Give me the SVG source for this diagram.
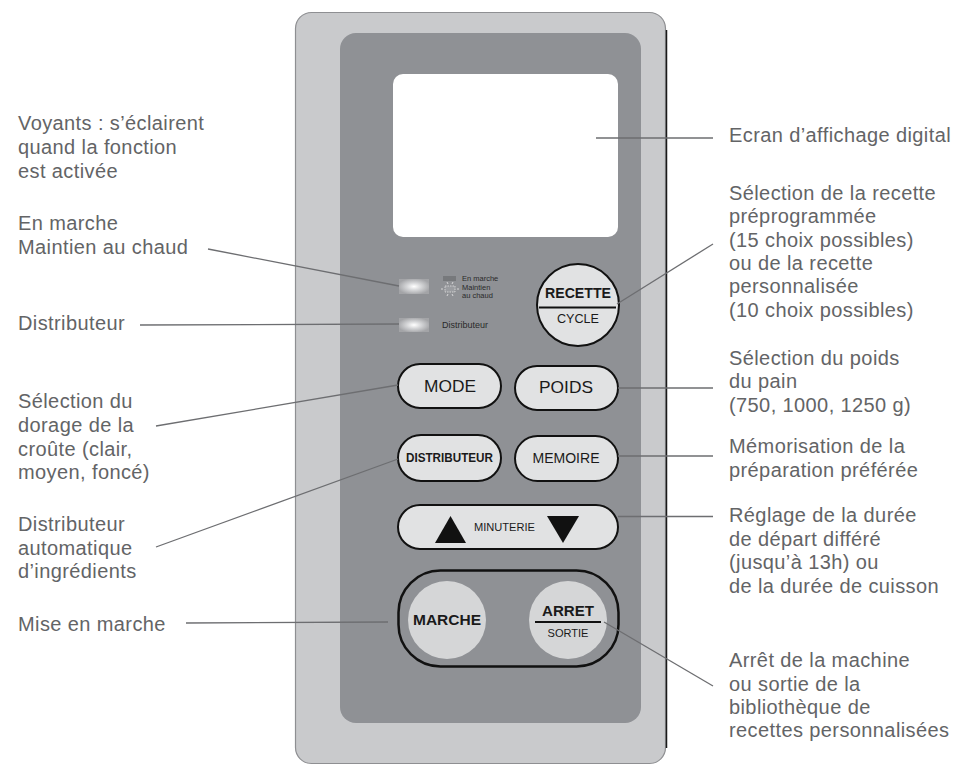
<svg xmlns="http://www.w3.org/2000/svg" width="960" height="766" viewBox="0 0 960 766">
<defs>
<radialGradient id="led" cx="50%" cy="50%" r="55%">
<stop offset="0" stop-color="#ffffff"/>
<stop offset="0.45" stop-color="#d4d5d7"/>
<stop offset="1" stop-color="#a3a4a7"/>
</radialGradient>
<style>
.lbl{font-family:"Liberation Sans",Arial,sans-serif;font-size:20px;fill:#636466;letter-spacing:0.4px}
.ld{stroke:#6d6e71;stroke-width:1.3;fill:none}
.btn{fill:#e1e2e3;stroke:#111;stroke-width:2}
.bt{font-family:"Liberation Sans",Arial,sans-serif;fill:#1a1a1a;text-anchor:middle}
.tiny{font-family:"Liberation Sans",Arial,sans-serif;fill:#2a2a2a;font-size:7.5px}
</style>
</defs>
<rect width="960" height="766" fill="#ffffff"/>

<g id="panel">
<rect x="295.5" y="12.5" width="370" height="751" rx="16" fill="#c9cacc" stroke="#8e8f92" stroke-width="1.2"/>
<line x1="666.5" y1="30" x2="666.5" y2="748" stroke="#1a1a1a" stroke-width="1.5"/>
<rect x="340" y="33" width="301" height="690" rx="16" fill="#8f9195"/>
</g>

<g id="screen">
<rect x="393" y="74" width="225" height="163" rx="10" fill="#ffffff"/>
</g>

<g id="leds">
<rect x="399" y="279" width="30" height="15" fill="url(#led)"/>
<rect x="399" y="318" width="30" height="14" fill="url(#led)"/>
<rect x="443" y="276" width="13" height="5" fill="#77797c"/>
<text class="tiny" x="462" y="281">En marche</text>
<rect x="445" y="286" width="10" height="6" fill="#9a9ca0" stroke="#e0e0e0" stroke-width="0.8" stroke-dasharray="1.5,1"/>
<g stroke="#e8e8e8" stroke-width="0.8">
<line x1="441" y1="289" x2="443" y2="289"/><line x1="457" y1="289" x2="459" y2="289"/>
<line x1="447" y1="282" x2="448" y2="284"/><line x1="453" y1="282" x2="452" y2="284"/>
<line x1="447" y1="296" x2="448" y2="294"/><line x1="453" y1="296" x2="452" y2="294"/>
</g>
<text class="tiny" x="462" y="290">Maintien</text>
<text class="tiny" x="462" y="298">au chaud</text>
<text class="tiny" x="442" y="328" style="font-size:9px">Distributeur</text>
</g>

<g id="btn-recette">
<circle cx="578" cy="305" r="41" class="btn"/>
<line x1="539" y1="307.5" x2="616" y2="307.5" stroke="#111" stroke-width="1.8"/>
<text class="bt" x="578" y="298" font-size="14" font-weight="bold" textLength="66" lengthAdjust="spacingAndGlyphs">RECETTE</text>
<text class="bt" x="578" y="323" font-size="12.5" textLength="42" lengthAdjust="spacingAndGlyphs">CYCLE</text>
</g>

<g id="btn-mode">
<rect x="398" y="364" width="103" height="44" rx="22" class="btn"/>
<text class="bt" x="450" y="392" font-size="17" textLength="52" lengthAdjust="spacingAndGlyphs">MODE</text>
</g>
<g id="btn-poids">
<rect x="515" y="366" width="103" height="44" rx="22" class="btn"/>
<text class="bt" x="566" y="393" font-size="17" textLength="54" lengthAdjust="spacingAndGlyphs">POIDS</text>
</g>
<g id="btn-distributeur">
<rect x="398" y="435" width="103" height="46" rx="23" class="btn"/>
<text class="bt" x="449.5" y="462" font-size="12" font-weight="bold" textLength="87" lengthAdjust="spacingAndGlyphs">DISTRIBUTEUR</text>
</g>
<g id="btn-memoire">
<rect x="515" y="436" width="103" height="45" rx="22.5" class="btn"/>
<text class="bt" x="566" y="463" font-size="14" textLength="67" lengthAdjust="spacingAndGlyphs">MEMOIRE</text>
</g>
<g id="btn-minuterie">
<rect x="398" y="505" width="220" height="44" rx="22" class="btn"/>
<polygon points="435,543 450.5,516 466,543" fill="#111"/>
<polygon points="547,516 579,516 563,543" fill="#111"/>
<text class="bt" x="504.5" y="531" font-size="11" textLength="61" lengthAdjust="spacingAndGlyphs">MINUTERIE</text>
</g>

<g id="btn-group">
<rect x="398.5" y="570.5" width="220" height="96" rx="42" fill="#8f9195" stroke="#111" stroke-width="2.5"/>
</g>
<g id="btn-marche">
<circle cx="447" cy="620" r="39" fill="#d5d6d7"/>
<text class="bt" x="447" y="625" font-size="15.5" font-weight="bold" textLength="68" lengthAdjust="spacingAndGlyphs">MARCHE</text>
</g>
<g id="btn-arret">
<circle cx="568" cy="620" r="39" fill="#d5d6d7"/>
<text class="bt" x="568" y="616" font-size="15" font-weight="bold" textLength="52" lengthAdjust="spacingAndGlyphs">ARRET</text>
<line x1="535" y1="622" x2="601" y2="622" stroke="#111" stroke-width="1.8"/>
<text class="bt" x="568" y="637" font-size="10.5" fill="#333" textLength="41" lengthAdjust="spacingAndGlyphs">SORTIE</text>
</g>

<g id="connectors">
<line class="ld" x1="596" y1="138" x2="713" y2="138"/>
<line class="ld" x1="208" y1="249" x2="399" y2="286"/>
<line class="ld" x1="140" y1="325" x2="399" y2="324"/>
<line class="ld" x1="617" y1="304" x2="713" y2="244"/>
<line class="ld" x1="156" y1="426" x2="398" y2="385"/>
<line class="ld" x1="618" y1="388" x2="713" y2="388"/>
<line class="ld" x1="156" y1="547" x2="398" y2="459"/>
<line class="ld" x1="618" y1="456" x2="713" y2="456"/>
<line class="ld" x1="618" y1="516.5" x2="713" y2="516.5"/>
<line class="ld" x1="186" y1="623" x2="388" y2="622"/>
<line class="ld" x1="604" y1="622" x2="713" y2="686"/>
</g>

<g id="labels-left">
<text class="lbl" x="18" y="130">Voyants : s’éclairent</text>
<text class="lbl" x="18" y="154">quand la fonction</text>
<text class="lbl" x="18" y="178">est activée</text>
<text class="lbl" x="18" y="230">En marche</text>
<text class="lbl" x="18" y="254">Maintien au chaud</text>
<text class="lbl" x="18" y="330">Distributeur</text>
<text class="lbl" x="18" y="408">Sélection du</text>
<text class="lbl" x="18" y="432">dorage de la</text>
<text class="lbl" x="18" y="456">croûte (clair,</text>
<text class="lbl" x="18" y="479">moyen, foncé)</text>
<text class="lbl" x="18" y="531">Distributeur</text>
<text class="lbl" x="18" y="555">automatique</text>
<text class="lbl" x="18" y="578">d’ingrédients</text>
<text class="lbl" x="18" y="631">Mise en marche</text>
</g>

<g id="labels-right">
<text class="lbl" x="729" y="142">Ecran d’affichage digital</text>
<text class="lbl" x="729" y="200">Sélection de la recette</text>
<text class="lbl" x="729" y="223">préprogrammée</text>
<text class="lbl" x="729" y="247">(15 choix possibles)</text>
<text class="lbl" x="729" y="270">ou de la recette</text>
<text class="lbl" x="729" y="293">personnalisée</text>
<text class="lbl" x="729" y="317">(10 choix possibles)</text>
<text class="lbl" x="729" y="365">Sélection du poids</text>
<text class="lbl" x="729" y="388">du pain</text>
<text class="lbl" x="729" y="412">(750, 1000, 1250 g)</text>
<text class="lbl" x="729" y="453">Mémorisation de la</text>
<text class="lbl" x="729" y="477">préparation préférée</text>
<text class="lbl" x="729" y="522">Réglage de la durée</text>
<text class="lbl" x="729" y="546">de départ différé</text>
<text class="lbl" x="729" y="569">(jusqu’à 13h) ou</text>
<text class="lbl" x="729" y="593">de la durée de cuisson</text>
<text class="lbl" x="729" y="667">Arrêt de la machine</text>
<text class="lbl" x="729" y="691">ou sortie de la</text>
<text class="lbl" x="729" y="714">bibliothèque de</text>
<text class="lbl" x="729" y="737">recettes personnalisées</text>
</g>
</svg>
